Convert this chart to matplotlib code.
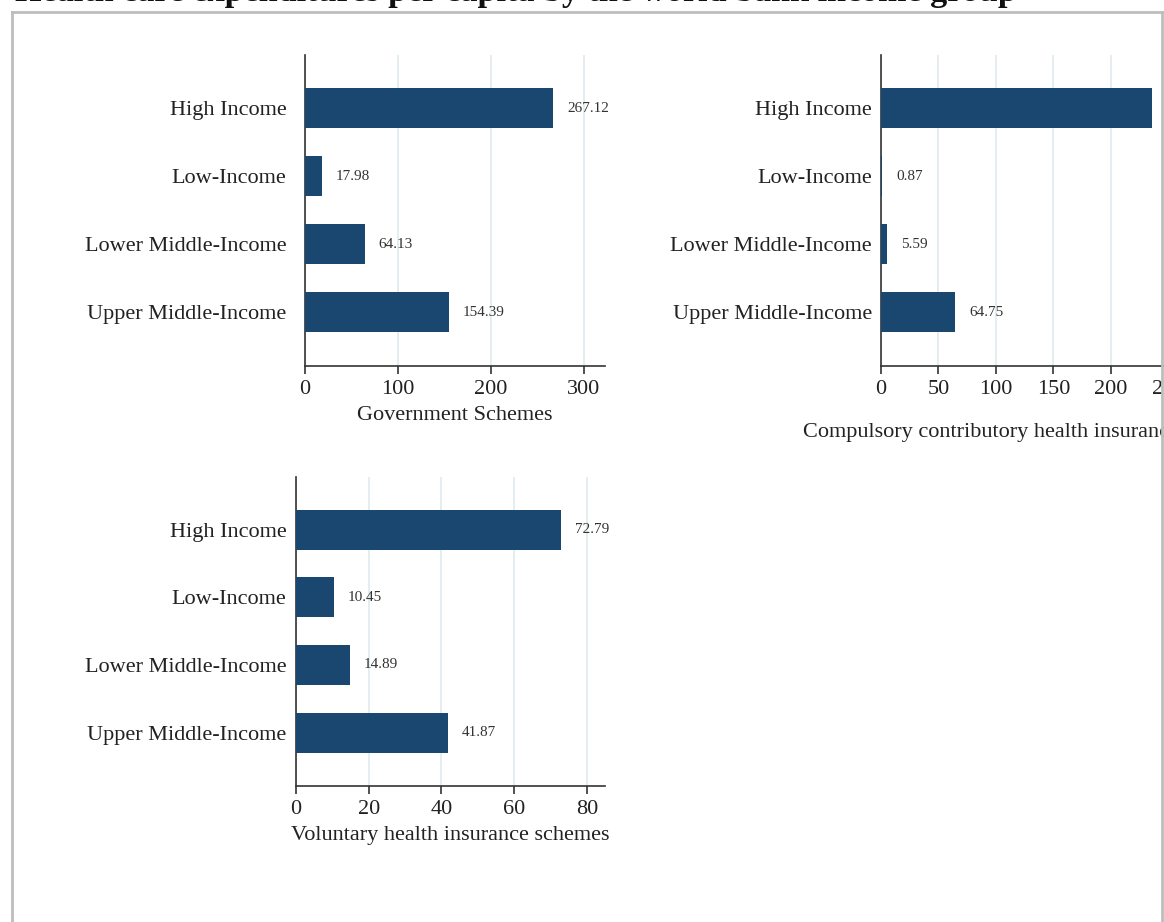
import matplotlib
matplotlib.use("Agg")
import matplotlib.pyplot as plt
from matplotlib.lines import Line2D

plt.rcParams['font.family'] = ['Liberation Serif', 'DejaVu Serif']

W, H = 1164, 922
DPI = 100

title = "Health care expenditures per capita by the world bank income group"
categories = ["High Income", "Low-Income", "Lower Middle-Income", "Upper Middle-Income"]
gov_schemes = [267.12, 17.98, 64.13, 154.39]
compulsory = [235.62, 0.87, 5.59, 64.75]
voluntary = [72.79, 10.45, 14.89, 41.87]
xlabels = ["Government Schemes",
           "Compulsory contributory health insurance schemes",
           "Voluntary health insurance schemes"]
xticks_list = [[0, 100, 200, 300], [0, 50, 100, 150, 200, 250], [0, 20, 40, 60, 80]]
xlims = [(0, 322.6), (0, 261), (0, 85)]

BAR = "#1a476f"
GRID = "#e2ecee"
AXC = "#333333"

fig = plt.figure(figsize=(W / DPI, H / DPI), dpi=DPI)
fig.patch.set_facecolor("white")

def px_axes(left, right, top, bottom):
    return fig.add_axes([left / W, 1 - bottom / H, (right - left) / W, (bottom - top) / H])

# (axes, values, xlabel pad, ytick pad)
panels = [
    (px_axes(305, 605, 55, 366), gov_schemes, 5, 13.5),
    (px_axes(881, 1181, 55, 366), compulsory, 17, 6.5),
    (px_axes(296, 605, 477, 786), voluntary, 5, 7),
]

for i, (ax, vals, lpad, ypad) in enumerate(panels):
    ypos = list(range(len(categories)))
    ax.barh(ypos, vals, height=0.59, color=BAR, zorder=3)
    ax.set_ylim(3.79, -0.78)
    ax.set_xlim(*xlims[i])
    ax.set_xticks(xticks_list[i])
    ax.set_yticks(ypos)
    ax.set_yticklabels(categories, fontsize=16, color="#222222")
    ax.tick_params(axis="y", length=0, pad=ypad)
    ax.tick_params(axis="x", length=6, width=1.2, color=AXC, pad=4,
                   labelsize=16, labelcolor="#222222")
    for s in ["top", "right"]:
        ax.spines[s].set_visible(False)
    for s in ["left", "bottom"]:
        ax.spines[s].set_color(AXC)
        ax.spines[s].set_linewidth(1.2)
    ax.xaxis.grid(True, color=GRID, linewidth=1.3, zorder=0)
    ax.set_axisbelow(True)
    ax.set_xlabel(xlabels[i], fontsize=16, color="#222222", labelpad=lpad)
    for y, v in zip(ypos, vals):
        ax.annotate(f"{v:.2f}", xy=(v, y), xytext=(10, 0), textcoords="offset points",
                    va="center", ha="left", fontsize=11, color="#333333",
                    annotation_clip=False)

# title (cut off at the top of the screenshot)
t = fig.text(15 / W, 1 - 0.5 / H, title, ha="left", va="baseline",
             fontsize=24, fontweight="bold", color="#111111")
fig.canvas.draw()
bb = t.get_window_extent()
target = 1005
t.set_fontsize(24 * target / bb.width)

# light gray frame
fc = "#bdbdbd"
fig.add_artist(Line2D([12 / W, 12 / W], [0, 1 - 12 / H], color=fc, lw=2, transform=fig.transFigure))
fig.add_artist(Line2D([12 / W, 1162 / W], [1 - 12 / H, 1 - 12 / H], color=fc, lw=2, transform=fig.transFigure))
fig.add_artist(Line2D([1162 / W, 1162 / W], [0, 1 - 12 / H], color=fc, lw=2, transform=fig.transFigure))

fig.savefig("out.png", dpi=DPI, facecolor="white")
